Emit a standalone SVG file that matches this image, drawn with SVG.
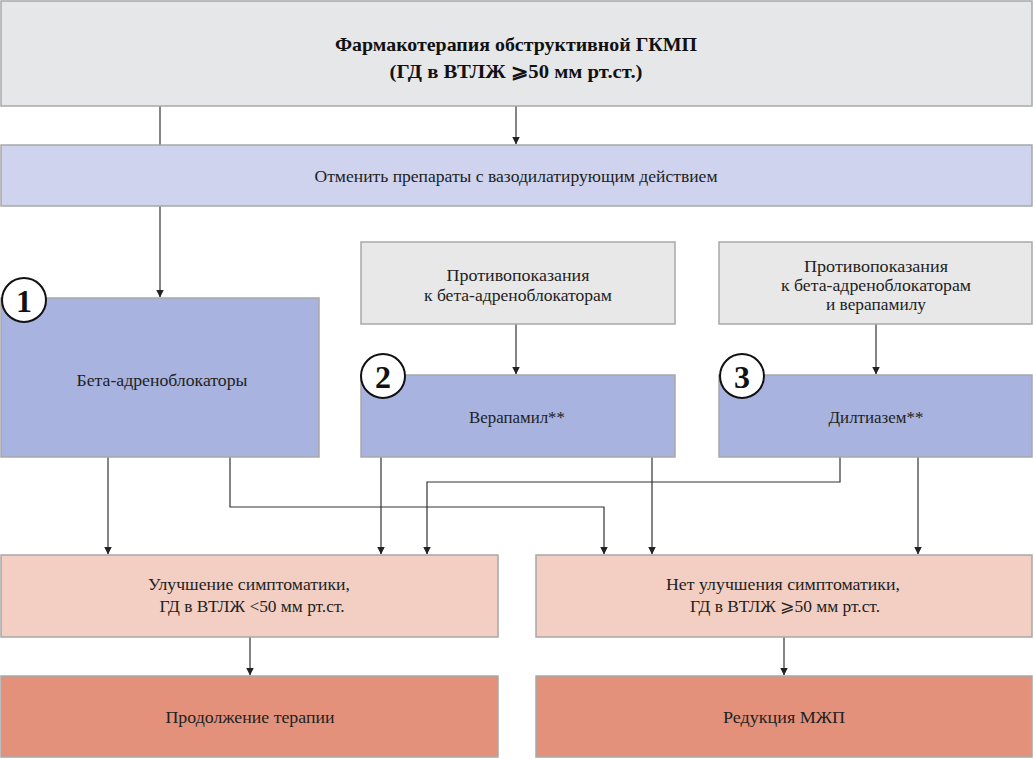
<svg xmlns="http://www.w3.org/2000/svg" width="1033" height="759" viewBox="0 0 1033 759">
<defs>
<style>
.t{font-family:"Liberation Serif","Times New Roman","DejaVu Serif",serif;font-size:17px;fill:#222;text-anchor:middle}
.b{font-weight:bold;font-size:19px;fill:#111}
.n{font-family:"Liberation Serif","Times New Roman",serif;font-weight:bold;font-size:32px;fill:#111;text-anchor:middle}
.box{stroke:#a8a8a8;stroke-width:1.5}
.gray{fill:#e6e7e9}
.lav{fill:#cfd3ee}
.blue{fill:#a9b3df}
.lgray{fill:#e8e8e8}
.peach{fill:#f2cfc2}
.salmon{fill:#e3917a}
.c{fill:#fff;stroke:#111;stroke-width:2}
.ln{fill:none;stroke:#333;stroke-width:1.2}
</style>
<marker id="ar" markerWidth="8" markerHeight="10" refX="7.5" refY="4" orient="auto" markerUnits="userSpaceOnUse" viewBox="0 0 8 8">
<path d="M0,0 L8,4 L0,8 Z" fill="#222"/>
</marker>
</defs>
<g id="connectors">
<path class="ln" d="M160,106 V297" marker-end="url(#ar)"/>
<path class="ln" d="M516,106 V144" marker-end="url(#ar)"/>
<path class="ln" d="M516,324 V374" marker-end="url(#ar)"/>
<path class="ln" d="M876,324 V374" marker-end="url(#ar)"/>
<path class="ln" d="M108,457 V554" marker-end="url(#ar)"/>
<path class="ln" d="M230,457 V507 H604 V554" marker-end="url(#ar)"/>
<path class="ln" d="M381,457 V554" marker-end="url(#ar)"/>
<path class="ln" d="M652,457 V554" marker-end="url(#ar)"/>
<path class="ln" d="M840,457 V482 H427 V554" marker-end="url(#ar)"/>
<path class="ln" d="M918,457 V554" marker-end="url(#ar)"/>
<path class="ln" d="M250,637 V675" marker-end="url(#ar)"/>
<path class="ln" d="M784,637 V675" marker-end="url(#ar)"/>
</g>
<g id="title">
<rect class="box gray" x="1" y="1" width="1031" height="105"/>
<text class="t b" x="516" y="51" textLength="362" lengthAdjust="spacingAndGlyphs">Фармакотерапия обструктивной ГКМП</text>
<text class="t b" x="516" y="78" textLength="253" lengthAdjust="spacingAndGlyphs">(ГД в ВТЛЖ ⩾50 мм рт.ст.)</text>
</g>
<g id="cancel">
<rect class="box lav" x="1" y="145" width="1031" height="61"/>
<text class="t" x="516" y="182" textLength="403" lengthAdjust="spacingAndGlyphs">Отменить препараты с вазодилатирующим действием</text>
</g>
<g id="beta">
<rect class="box blue" x="1" y="298" width="318" height="159"/>
<text class="t" x="162" y="386" textLength="171" lengthAdjust="spacingAndGlyphs">Бета-адреноблокаторы</text>
<circle class="c" cx="24" cy="300" r="22"/>
<text class="n" x="24" y="312">1</text>
</g>
<g id="contra1">
<rect class="box lgray" x="361" y="242" width="314" height="82"/>
<text class="t" x="518" y="281" textLength="143" lengthAdjust="spacingAndGlyphs">Противопоказания</text>
<text class="t" x="518" y="301" textLength="188" lengthAdjust="spacingAndGlyphs">к бета-адреноблокаторам</text>
</g>
<g id="verapamil">
<rect class="box blue" x="361" y="375" width="314" height="82"/>
<text class="t" x="517" y="423" textLength="96" lengthAdjust="spacingAndGlyphs">Верапамил**</text>
<circle class="c" cx="383" cy="376" r="22"/>
<text class="n" x="383" y="388">2</text>
</g>
<g id="contra2">
<rect class="box lgray" x="719" y="242" width="313" height="82"/>
<text class="t" x="876" y="272" textLength="144" lengthAdjust="spacingAndGlyphs">Противопоказания</text>
<text class="t" x="876" y="291" textLength="190" lengthAdjust="spacingAndGlyphs">к бета-адреноблокаторам</text>
<text class="t" x="876" y="310" textLength="100" lengthAdjust="spacingAndGlyphs">и верапамилу</text>
</g>
<g id="diltiazem">
<rect class="box blue" x="719" y="375" width="313" height="82"/>
<text class="t" x="876" y="423" textLength="95" lengthAdjust="spacingAndGlyphs">Дилтиазем**</text>
<circle class="c" cx="742" cy="376" r="22"/>
<text class="n" x="742" y="388">3</text>
</g>
<g id="improve">
<rect class="box peach" x="1" y="555" width="497" height="82"/>
<text class="t" x="249" y="590" textLength="202" lengthAdjust="spacingAndGlyphs">Улучшение симптоматики,</text>
<text class="t" x="252" y="612" textLength="185" lengthAdjust="spacingAndGlyphs">ГД в ВТЛЖ &lt;50 мм рт.ст.</text>
</g>
<g id="noimprove">
<rect class="box peach" x="536" y="555" width="496" height="82"/>
<text class="t" x="783" y="590" textLength="234" lengthAdjust="spacingAndGlyphs">Нет улучшения симптоматики,</text>
<text class="t" x="785" y="612" textLength="190" lengthAdjust="spacingAndGlyphs">ГД в ВТЛЖ ⩾50 мм рт.ст.</text>
</g>
<g id="continue">
<rect class="box salmon" x="1" y="676" width="497" height="81"/>
<text class="t" x="250" y="723" textLength="169" lengthAdjust="spacingAndGlyphs">Продолжение терапии</text>
</g>
<g id="reduction">
<rect class="box salmon" x="536" y="676" width="496" height="81"/>
<text class="t" x="784" y="723" textLength="122" lengthAdjust="spacingAndGlyphs">Редукция МЖП</text>
</g>
</svg>
